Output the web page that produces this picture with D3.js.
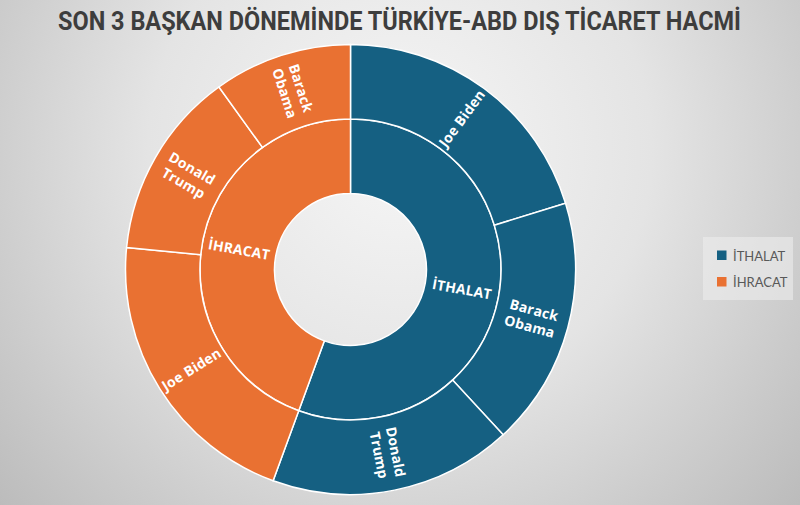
<!DOCTYPE html>
<html lang="tr">
<head>
  <meta charset="UTF-8">
  <title>Türkiye-ABD Dış Ticaret Hacmi</title>
  <script src="https://d3js.org/d3.v7.min.js"></script>
  <style>
    body { margin: 0; padding: 0; overflow: hidden; }
    svg { display: block; }
    .lbl { fill: #fff; font-family: "Open Sans", sans-serif; font-weight: 700; font-size: 14px; letter-spacing: 0.2px; pointer-events: none; }
  </style>
</head>
<body>
  <div id="chart"></div>
  <script>
    const width = 800;
    const height = 505;

    // data (milyar $)
    const groups = ['İTHALAT', 'İHRACAT'];
    const presidents = ['Joe Biden', 'Barack Obama', 'Donald Trump'];
    const ithalat = [55.8, 49.3, 48.1];
    const ihracat = [57.8, 27.4, 37.2];
    const colors = ['#156082', '#e97132'];

    const tree = {
      name: 'root',
      children: [
        { name: groups[0], children: presidents.map((p, i) => ({ name: p, value: ithalat[i] })) },
        { name: groups[1], children: presidents.map((p, i) => ({ name: p, value: ihracat[i] })) }
      ]
    };

    const cx = 350.5, cy = 269.5;
    const radii = [0, 76, 150.5, 225];

    const svg = d3.select('#chart').append('svg')
      .attr('width', width)
      .attr('height', height);

    const defs = svg.append('defs');
    const grad = defs.append('radialGradient')
      .attr('id', 'bg')
      .attr('gradientUnits', 'userSpaceOnUse')
      .attr('cx', 400).attr('cy', 150).attr('r', 560);
    grad.append('stop').attr('offset', '0%').attr('stop-color', '#f6f6f6');
    grad.append('stop').attr('offset', '45%').attr('stop-color', '#e4e4e4');
    grad.append('stop').attr('offset', '100%').attr('stop-color', '#b8b8b8');

    svg.append('rect').attr('width', width).attr('height', height).attr('fill', 'url(#bg)');

    svg.append('text')
      .attr('x', 399.5).attr('y', 29.5)
      .attr('text-anchor', 'middle')
      .attr('textLength', 683)
      .attr('lengthAdjust', 'spacingAndGlyphs')
      .style('font-family', 'Roboto, sans-serif')
      .style('font-weight', 700)
      .style('font-size', '25px')
      .style('fill', '#3d3d3d')
      .text('SON 3 BAŞKAN DÖNEMİNDE TÜRKİYE-ABD DIŞ TİCARET HACMİ');

    const root = d3.hierarchy(tree)
      .sum(d => d.value || 0)
      .sort((a, b) => b.value - a.value);

    d3.partition().size([2 * Math.PI, 3])(root);

    const arc = d3.arc()
      .startAngle(d => d.x0)
      .endAngle(d => d.x1)
      .innerRadius(d => radii[d.depth])
      .outerRadius(d => radii[d.depth + 1]);

    const g = svg.append('g').attr('transform', `translate(${cx},${cy})`);
    const nodes = root.descendants().filter(d => d.depth > 0);

    g.selectAll('path')
      .data(nodes)
      .join('path')
      .attr('d', arc)
      .attr('fill', d => colors[groups.indexOf(d.depth === 1 ? d.data.name : d.parent.data.name)])
      .attr('stroke', '#fff')
      .attr('stroke-width', 1.5);

    const label = g.selectAll('g.lab')
      .data(nodes)
      .join('g')
      .attr('class', 'lab')
      .attr('transform', d => {
        const a = (d.x0 + d.x1) / 2;
        const r = (radii[d.depth] + radii[d.depth + 1]) / 2;
        const x = Math.sin(a) * r, y = -Math.cos(a) * r;
        let rot = a * 180 / Math.PI - 90;
        if (a > Math.PI) rot += 180;
        return `translate(${x},${y}) rotate(${rot})`;
      });

    label.each(function(d) {
      const words = d.depth === 2 && d.data.name !== 'Joe Biden' ? d.data.name.split(' ') : [d.data.name];
      const t = d3.select(this).append('text')
        .attr('class', 'lbl')
        .attr('text-anchor', 'middle');
      const lh = 17;
      words.forEach((w, i) => {
        t.append('tspan')
          .attr('x', 0)
          .attr('y', (i - (words.length - 1) / 2) * lh)
          .attr('dy', '0.35em')
          .text(w);
      });
    });

    // legend
    const legend = svg.append('g');
    legend.append('rect')
      .attr('x', 703).attr('y', 237).attr('width', 90).attr('height', 63)
      .attr('fill', '#ececec').attr('opacity', 0.6);
    groups.forEach((name, i) => {
      const y = 250.5 + i * 26.5;
      legend.append('rect')
        .attr('x', 717).attr('y', y).attr('width', 9.5).attr('height', 9.5)
        .attr('fill', colors[i]);
      legend.append('text')
        .attr('x', 733).attr('y', y + 10)
        .style('font-family', 'Lato, sans-serif')
        .style('font-size', '13px')
        .style('fill', '#595959')
        .text(name);
    });
  </script>
</body>
</html>
